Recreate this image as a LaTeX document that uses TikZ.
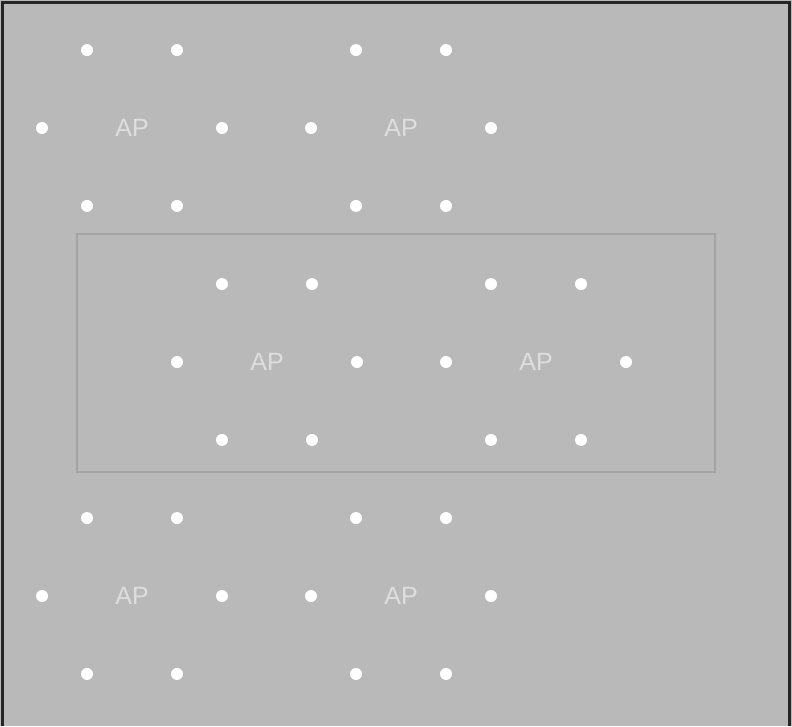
\documentclass[tikz,border=0pt]{standalone}
\usepackage{fontspec}
\newfontfamily\apfont{Liberation Sans}
\usepackage{tikz}
\usetikzlibrary{calc}
\definecolor{field}{RGB}{185,185,185}
\definecolor{aplabel}{RGB}{222,222,222}
\definecolor{zoneline}{RGB}{163,163,163}
\definecolor{frameline}{RGB}{38,38,38}

\begin{document}
\begin{tikzpicture}[x=1pt, y=-1pt,
  ap/.style={inner sep=0pt, text=aplabel, font=\apfont\fontsize{25}{25}\selectfont},
  dot/.style={circle, fill=white, inner sep=0pt, minimum size=12pt},
  zone/.style={draw=zoneline, line width=1.8pt},
]
  \useasboundingbox (0,0) rectangle (792,726);
  \fill[field] (0,0) rectangle (792,726);
  \draw[frameline, line width=3pt] (2.5,726) -- (2.5,2.5) -- (789.5,2.5) -- (789.5,726);

  % highlighted area
  \coordinate (z1) at (77,234);
  \coordinate (z2) at (715,472);
  \draw[zone] (z1) rectangle (z2);

  % access points with their ring of neighbours
  \foreach \n/\x/\y in {1/132/128, 2/401/128, 3/267/362, 4/536/362, 5/132/596, 6/401/596} {
    \node[ap] (ap\n) at (\x,\y) {AP};
    \foreach \a [count=\k] in {0,60,...,300}
      \node[dot] (ap\n-\k) at ($(ap\n)+(\a:90)$) {};
  }
\end{tikzpicture}
\end{document}
